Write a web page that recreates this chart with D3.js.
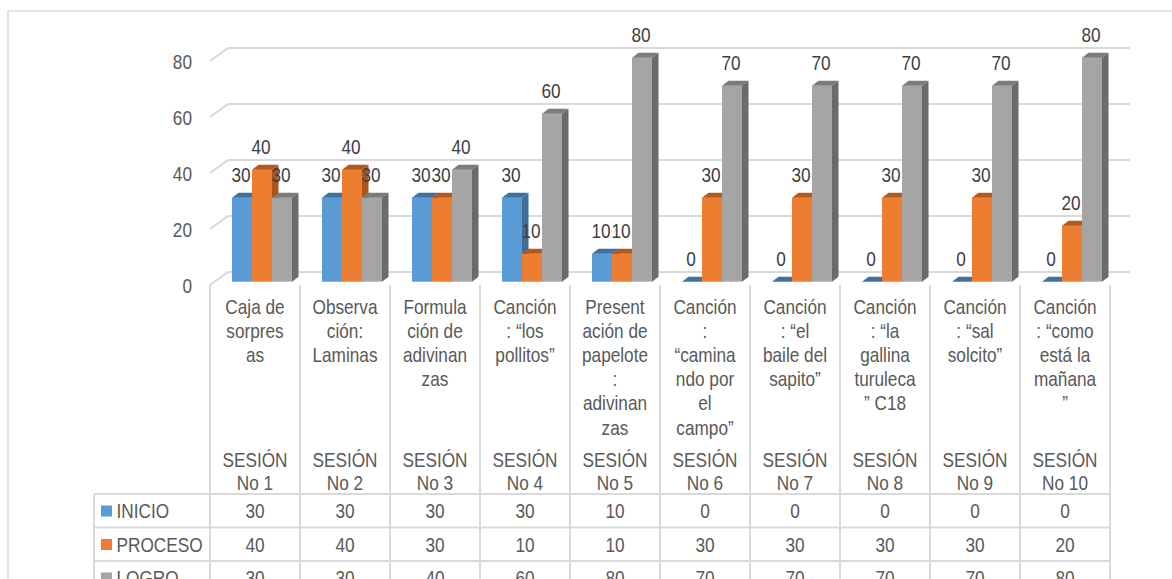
<!DOCTYPE html>
<html>
<head>
<meta charset="utf-8">
<script src="https://cdn.jsdelivr.net/npm/d3@7"></script>
<style>
  html, body { margin: 0; padding: 0; background: #fff; }
  svg { display: block; }
  text { font-family: "Liberation Sans", Arial, sans-serif; }
</style>
</head>
<body>
<svg id="chart" width="1172" height="579"></svg>
<script>
// ---------- DATA ----------
const sessions = ["SESIÓN\nNo 1","SESIÓN\nNo 2","SESIÓN\nNo 3","SESIÓN\nNo 4","SESIÓN\nNo 5",
                  "SESIÓN\nNo 6","SESIÓN\nNo 7","SESIÓN\nNo 8","SESIÓN\nNo 9","SESIÓN\nNo 10"];
const activities = [
  "Caja de\nsorpres\nas",
  "Observa\nción:\nLaminas",
  "Formula\nción de\nadivinan\nzas",
  "Canción\n: “los\npollitos”",
  "Present\nación de\npapelote\n:\nadivinan\nzas",
  "Canción\n:\n“camina\nndo por\nel\ncampo”",
  "Canción\n: “el\nbaile del\nsapito”",
  "Canción\n: “la\ngallina\nturuleca\n” C18",
  "Canción\n: “sal\nsolcito”",
  "Canción\n: “como\nestá la\nmañana\n”"
];
const seriesNames = ["INICIO", "PROCESO", "LOGRO"];
const inicio  = [30, 30, 30, 30, 10, 0, 0, 0, 0, 0];
const proceso = [40, 40, 30, 10, 10, 30, 30, 30, 30, 20];
const logro   = [30, 30, 40, 60, 80, 70, 70, 70, 70, 80];
const yTicks = [0, 20, 40, 60, 80];

const seriesValues = [inicio, proceso, logro];
const colors = {
  INICIO:  {front: "#5B9BD5", top: "#41719C", side: "#3F6E9A"},
  PROCESO: {front: "#ED7D31", top: "#AE5A21", side: "#A9561E"},
  LOGRO:   {front: "#A5A5A5", top: "#7C7C7C", side: "#6B6B6B"}
};

// ---------- SETUP ----------
const svg = d3.select("#chart");
const W = 1172, H = 579;
const FS = 21, SX = 0.82;
const textCol = "#595959", gridCol = "#d9d9d9";

function label(g, x, y, str, anchor, fill) {
  return g.append("text")
    .attr("transform", `translate(${x},${y}) scale(${SX},1)`)
    .attr("text-anchor", anchor || "middle")
    .attr("font-size", FS)
    .attr("fill", fill || textCol)
    .text(str);
}

// frame
svg.append("rect").attr("x", 8).attr("y", 11).attr("width", 1200).attr("height", 620)
  .attr("fill", "none").attr("stroke", gridCol).attr("stroke-width", 1.5);

// scales
const yFront = d3.scaleLinear().domain([0, 80]).range([285, 61]);
const yBack  = d3.scaleLinear().domain([0, 80]).range([272, 48]);
const yBar   = d3.scaleLinear().domain([0, 80]).range([281.7, 57.7]);
const xCat = d3.scaleBand().domain(sessions).range([210, 1110]);
const xSer = d3.scaleBand().domain(seriesNames).range([22, 82]);
const DX = 6.5, DY = -5;

// gridlines (side wall diagonal + back wall)
const grid = svg.append("g");
yTicks.forEach(t => {
  grid.append("path")
    .attr("d", `M210,${yFront(t)} L228,${yBack(t)} L1130,${yBack(t)}`)
    .attr("fill", "none").attr("stroke", gridCol).attr("stroke-width", 2);
});

// y axis labels
const yAxis = d3.axisLeft(yFront).tickValues(yTicks).tickSize(0).tickPadding(0);
const ya = svg.append("g").attr("transform", "translate(192,0)").call(yAxis);
ya.select(".domain").remove();
ya.selectAll("text")
  .attr("x", 0).attr("dy", "0.38em")
  .attr("transform", `scale(${SX},1)`)
  .attr("font-size", FS).attr("fill", textCol)
  .attr("font-family", "Liberation Sans, Arial, sans-serif");

// bars
const barsG = svg.append("g");
sessions.forEach((s, i) => {
  seriesNames.forEach((sn, j) => {
    const v = seriesValues[j][i];
    const x = xCat(s) + xSer(sn), w = xSer.bandwidth();
    const yt = yBar(v), yb = yBar(0);
    const c = colors[sn];
    const g = barsG.append("g");
    g.append("rect").attr("x", x).attr("y", yt).attr("width", w).attr("height", yb - yt)
      .attr("fill", c.front);
    g.append("path")
      .attr("d", `M${x},${yt} L${x + DX},${yt + DY} L${x + w + DX},${yt + DY} L${x + w},${yt} Z`)
      .attr("fill", c.top);
    g.append("path")
      .attr("d", `M${x + w},${yt} L${x + w + DX},${yt + DY} L${x + w + DX},${yb + DY} L${x + w},${yb} Z`)
      .attr("fill", c.side);
  });
});

// data labels
const lblG = svg.append("g");
sessions.forEach((s, i) => {
  seriesNames.forEach((sn, j) => {
    const v = seriesValues[j][i];
    const x = xCat(s) + xSer(sn) + xSer.bandwidth() / 2 - 1;
    label(lblG, x, yBar(v) - 16, String(v), "middle", "#404040");
  });
});

// ---------- TABLE / CATEGORY AXIS ----------
const tbl = svg.append("g");
const colEdges = sessions.map(s => xCat(s)).concat([xCat.range()[1]]);
colEdges.forEach(x => {
  tbl.append("line").attr("x1", x).attr("x2", x).attr("y1", 285).attr("y2", H + 10)
    .attr("stroke", gridCol).attr("stroke-width", 2);
});
const rowY = [494, 527.5, 561, 594.5];
rowY.forEach(y => {
  tbl.append("line").attr("x1", 94).attr("x2", 1110).attr("y1", y).attr("y2", y)
    .attr("stroke", gridCol).attr("stroke-width", 2);
});
tbl.append("line").attr("x1", 94).attr("x2", 94).attr("y1", 494).attr("y2", H + 10)
  .attr("stroke", gridCol).attr("stroke-width", 2);

// category labels (inner level)
sessions.forEach((s, i) => {
  const cx = xCat(s) + xCat.bandwidth() / 2;
  activities[i].split("\n").forEach((ln, k) => {
    label(tbl, cx, 313.5 + k * 24.2, ln);
  });
  s.split("\n").forEach((ln, k) => {
    label(tbl, cx, 467 + k * 23, ln);
  });
});

// rows
seriesNames.forEach((sn, j) => {
  const base = 518 + j * 33.5;
  tbl.append("rect").attr("x", 101).attr("y", base - 12.5).attr("width", 11).attr("height", 11)
    .attr("fill", colors[sn].front);
  label(tbl, 116.5, base, sn, "start");
  sessions.forEach((s, i) => {
    const cx = xCat(s) + xCat.bandwidth() / 2;
    label(tbl, cx, base, String(seriesValues[j][i]));
  });
});
</script>
</body>
</html>
